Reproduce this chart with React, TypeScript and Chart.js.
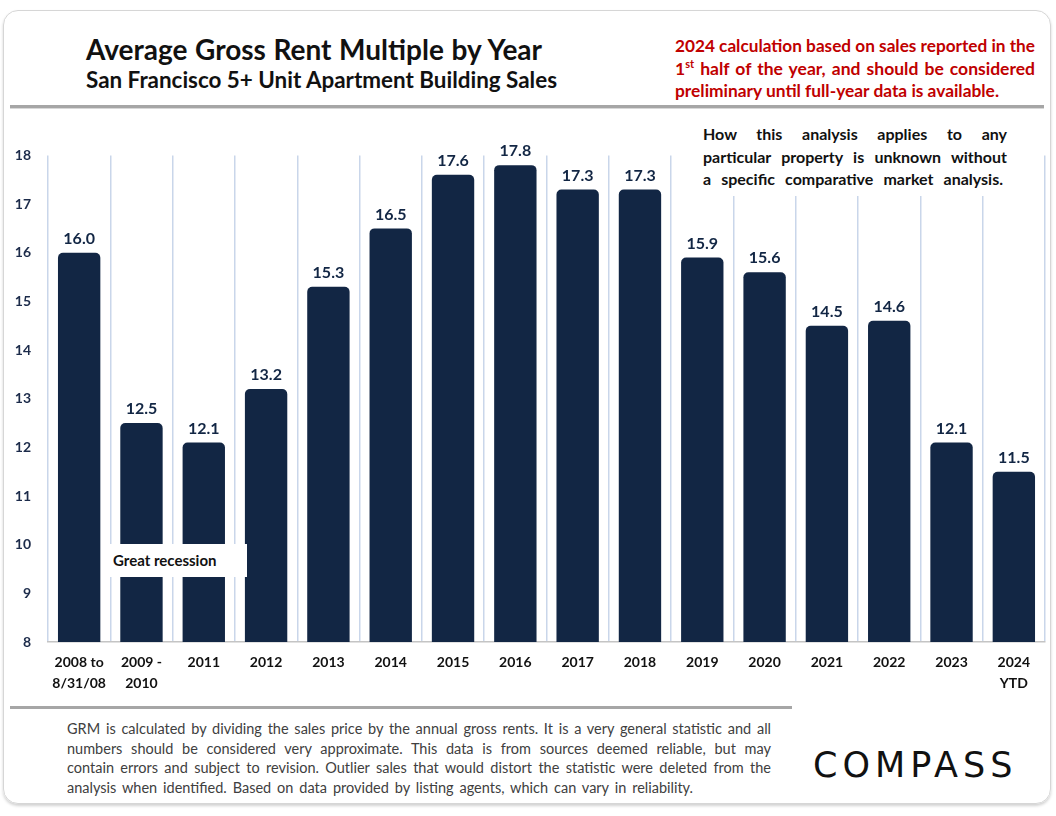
import React, { useEffect, useLayoutEffect, useRef, useState } from "react";
import { Chart, registerables } from "chart.js";

Chart.register(...registerables);

const categories: (string | string[])[] = [
  ["2008 to", "8/31/08"],
  ["2009 -", "2010"],
  "2011",
  "2012",
  "2013",
  "2014",
  "2015",
  "2016",
  "2017",
  "2018",
  "2019",
  "2020",
  "2021",
  "2022",
  "2023",
  ["2024", "YTD"],
];
const grmValues: number[] = [16.0, 12.5, 12.1, 13.2, 15.3, 16.5, 17.6, 17.8, 17.3, 17.3, 15.9, 15.6, 14.5, 14.6, 12.1, 11.5];
const yMin = 8;
const yMax = 18;

const NAVY = "#122644";
const CHART_FONT = "Lato, 'Open Sans', 'DejaVu Sans', sans-serif";

const valueLabels = {
  id: "valueLabels",
  afterDatasetsDraw(chart: any) {
    const ctx = chart.ctx;
    const meta = chart.getDatasetMeta(0);
    ctx.save();
    ctx.font = `bold 16px ${CHART_FONT}`;
    ctx.fillStyle = NAVY;
    ctx.textAlign = "center";
    ctx.textBaseline = "middle";
    meta.data.forEach((bar: any, i: number) => {
      const v = chart.data.datasets[0].data[i] as number;
      ctx.fillText(v.toFixed(1), bar.x, bar.y - 14);
    });
    ctx.restore();
  },
};

// A single line of text that spans exactly `width`: justified if it is narrower,
// horizontally condensed if it is wider.
function FitLine({ text, width, justify = true }: { text: React.ReactNode; width: number; justify?: boolean }) {
  const ref = useRef<HTMLSpanElement | null>(null);
  const [scale, setScale] = useState(1);
  useLayoutEffect(() => {
    if (!ref.current) return;
    const w = ref.current.getBoundingClientRect().width;
    if (w > width) setScale(width / w);
  }, [width]);
  if (scale < 1) {
    return (
      <div style={{ width, whiteSpace: "nowrap" }}>
        <span
          ref={ref}
          style={{ display: "inline-block", transform: `scaleX(${scale})`, transformOrigin: "left center" }}
        >
          {text}
        </span>
      </div>
    );
  }
  return (
    <div
      style={{
        width,
        whiteSpace: "nowrap",
        textAlign: justify ? "justify" : "left",
        textAlignLast: (justify ? "justify" : "left") as any,
      }}
    >
      <span ref={ref} style={{ display: justify ? "inline" : "inline-block" }}>
        {text}
      </span>
    </div>
  );
}

export default function App() {
  const canvasRef = useRef<HTMLCanvasElement | null>(null);

  useEffect(() => {
    document.body.style.margin = "0";
    const canvas = canvasRef.current;
    if (!canvas) return;
    const chart = new Chart(canvas, {
      type: "bar",
      data: {
        labels: categories as any,
        datasets: [
          {
            data: grmValues,
            backgroundColor: NAVY,
            borderRadius: { topLeft: 5, topRight: 5, bottomLeft: 0, bottomRight: 0 },
            borderSkipped: "bottom",
            barPercentage: 0.68,
            categoryPercentage: 1.0,
          },
        ],
      },
      options: {
        animation: false,
        responsive: true,
        maintainAspectRatio: false,
        layout: { padding: { top: 19, right: 11, left: 0, bottom: 0 } },
        plugins: {
          legend: { display: false },
          tooltip: { enabled: false },
          title: { display: false },
        },
        scales: {
          x: {
            offset: true,
            grid: { display: true, offset: true, color: "#c9d6ea", lineWidth: 1.5, drawTicks: false },
            border: { display: true, color: "#c4c4c4", width: 1.5 },
            ticks: {
              color: "#111111",
              font: { family: CHART_FONT, size: 14, weight: "bold", lineHeight: 1.5 },
              padding: 10,
              maxRotation: 0,
              autoSkip: false,
            },
            afterFit: (s: any) => {
              s.height = 58;
            },
          },
          y: {
            min: yMin,
            max: yMax,
            grid: { display: false, drawTicks: false },
            border: { display: false },
            ticks: {
              stepSize: 1,
              color: "#1c2b4a",
              font: { family: CHART_FONT, size: 14, weight: "bold" },
              padding: 17,
            },
            afterFit: (s: any) => {
              s.width = 48;
            },
          },
        },
      },
      plugins: [valueLabels],
    });
    return () => chart.destroy();
  }, []);

  return (
    <div style={{ position: "relative", width: 1056, height: 816, background: "#ffffff", overflow: "hidden" }}>
      {/* card */}
      <div
        style={{
          position: "absolute",
          left: 3,
          top: 10,
          width: 1048,
          height: 794,
          border: "1px solid #d6d6d6",
          borderRadius: 15,
          boxShadow: "0 2px 3px rgba(0,0,0,0.18)",
          boxSizing: "border-box",
        }}
      />
      {/* title */}
      <div
        style={{
          position: "absolute",
          left: 86,
          top: 32,
          fontFamily: CHART_FONT,
          fontWeight: "bold",
          fontSize: 28,
          color: "#111",
          lineHeight: "34px",
        }}
      >
        <FitLine width={456} text="Average Gross Rent Multiple by Year" />
      </div>
      <div
        style={{
          position: "absolute",
          left: 86,
          top: 67,
          fontFamily: CHART_FONT,
          fontWeight: "bold",
          fontSize: 22.5,
          color: "#111",
          lineHeight: "26px",
        }}
      >
        <FitLine width={471} text="San Francisco 5+ Unit Apartment Building Sales" />
      </div>
      {/* red note */}
      <div
        style={{
          position: "absolute",
          left: 675,
          top: 35,
          fontFamily: CHART_FONT,
          fontWeight: "bold",
          fontSize: 17.5,
          color: "#c00000",
          lineHeight: "22.5px",
        }}
      >
        <FitLine width={360} text="2024 calculation based on sales reported in the" />
        <FitLine
          width={360}
          text={
            <>
              1<sup style={{ fontSize: 11, lineHeight: 0 }}>st</sup> half of the year, and should be considered
            </>
          }
        />
        <FitLine width={324} text="preliminary until full-year data is available." />
      </div>
      {/* top separator */}
      <div
        style={{
          position: "absolute",
          left: 10,
          top: 105,
          width: 1034,
          height: 3,
          background: "#a6a6a6",
          borderBottom: "1px solid #d8d8d8",
        }}
      />
      {/* chart */}
      <div style={{ position: "absolute", left: 0, top: 130, width: 1056, height: 570 }}>
        <canvas ref={canvasRef} />
      </div>
      {/* analysis note */}
      <div
        style={{
          position: "absolute",
          left: 690,
          top: 120,
          width: 340,
          height: 76,
          background: "#ffffff",
        }}
      >
        <div
          style={{
            position: "absolute",
            left: 13,
            top: 3,
            fontFamily: CHART_FONT,
            fontWeight: "bold",
            fontSize: 16,
            color: "#111",
            lineHeight: "22.5px",
          }}
        >
          <FitLine width={304} text="How this analysis applies to any" />
          <FitLine width={304} text="particular property is unknown without" />
          <FitLine width={300} text="a specific comparative market analysis." />
        </div>
      </div>
      {/* great recession */}
      <div
        style={{
          position: "absolute",
          left: 104,
          top: 544,
          width: 143,
          height: 33,
          background: "#ffffff",
          fontFamily: CHART_FONT,
          fontWeight: "bold",
          fontSize: 15,
          color: "#111",
          lineHeight: "33px",
          boxSizing: "border-box",
          paddingLeft: 9,
          whiteSpace: "nowrap",
        }}
      >
        Great recession
      </div>
      {/* bottom separator */}
      <div
        style={{
          position: "absolute",
          left: 10,
          top: 706,
          width: 782,
          height: 3,
          background: "#a6a6a6",
        }}
      />
      {/* footer */}
      <div
        style={{
          position: "absolute",
          left: 67,
          top: 719,
          fontFamily: CHART_FONT,
          fontSize: 14.5,
          color: "#404040",
          lineHeight: "19.7px",
        }}
      >
        <FitLine
          width={704}
          text="GRM is calculated by dividing the sales price by the annual gross rents. It is a very general statistic and all"
        />
        <FitLine
          width={704}
          text="numbers should be considered very approximate. This data is from sources deemed reliable, but may"
        />
        <FitLine
          width={704}
          text="contain errors and subject to revision. Outlier sales that would distort the statistic were deleted from the"
        />
        <FitLine
          width={626}
          text="analysis when identified. Based on data provided by listing agents, which can vary in reliability."
        />
      </div>
      {/* logo */}
      <div
        style={{
          position: "absolute",
          left: 813,
          top: 744,
          fontFamily: "'DejaVu Sans', Lato, sans-serif",
          fontSize: 35,
          letterSpacing: 5,
          color: "#111",
          lineHeight: "42px",
          whiteSpace: "nowrap",
          fontWeight: 400,
        }}
      >
        COMPASS
      </div>
    </div>
  );
}
